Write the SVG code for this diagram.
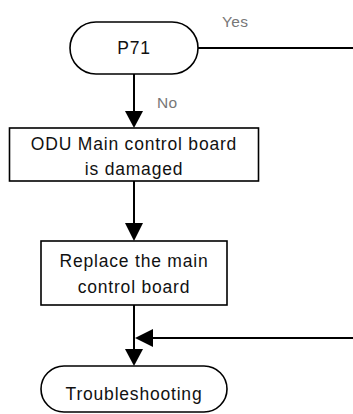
<svg xmlns="http://www.w3.org/2000/svg" width="353" height="414" viewBox="0 0 353 414">
<defs>
<style>
.shape{fill:#fff;stroke:#000;stroke-width:1.6}
.t{font-family:"Liberation Sans",Arial,sans-serif;font-size:17.5px;letter-spacing:0.8px;fill:#111;text-anchor:middle}
.lbl{font-family:"Liberation Sans",Arial,sans-serif;font-size:15.5px;letter-spacing:0.3px;fill:#777}
.c{fill:none;stroke:#000;stroke-width:2}
</style>
</defs>
<g id="connectors">
<path class="c" d="M198,48 H353"/>
<path d="M134,74 V111" class="c"/><path d="M125,111 L143,111 L134,128 Z"/>
<path d="M134,181 V223" class="c"/><path d="M125,223 L143,223 L134,241 Z"/>
<path d="M134,305 V349" class="c"/><path d="M125,349 L143,349 L134,366 Z"/>
<path d="M353,338 H152" class="c"/><path d="M153,329 L153,347 L135,338 Z"/>
<text class="lbl" x="222" y="27">Yes</text>
<text class="lbl" x="157" y="108">No</text>
</g>
<g id="p71">
<rect class="shape" x="70" y="22" width="128" height="52" rx="26"/>
<text class="t" x="134" y="54">P71</text>
</g>
<g id="damaged">
<rect class="shape" x="9.5" y="128" width="249" height="53"/>
<text class="t" x="134" y="150">ODU Main control board</text>
<text class="t" x="134" y="175">is damaged</text>
</g>
<g id="replace">
<rect class="shape" x="41" y="241" width="186" height="64"/>
<text class="t" x="134" y="267">Replace the main</text>
<text class="t" x="134" y="293">control board</text>
</g>
<g id="troubleshooting">
<rect class="shape" x="41" y="366" width="186" height="46" rx="23"/>
<text class="t" x="134" y="400">Troubleshooting</text>
</g>
</svg>
